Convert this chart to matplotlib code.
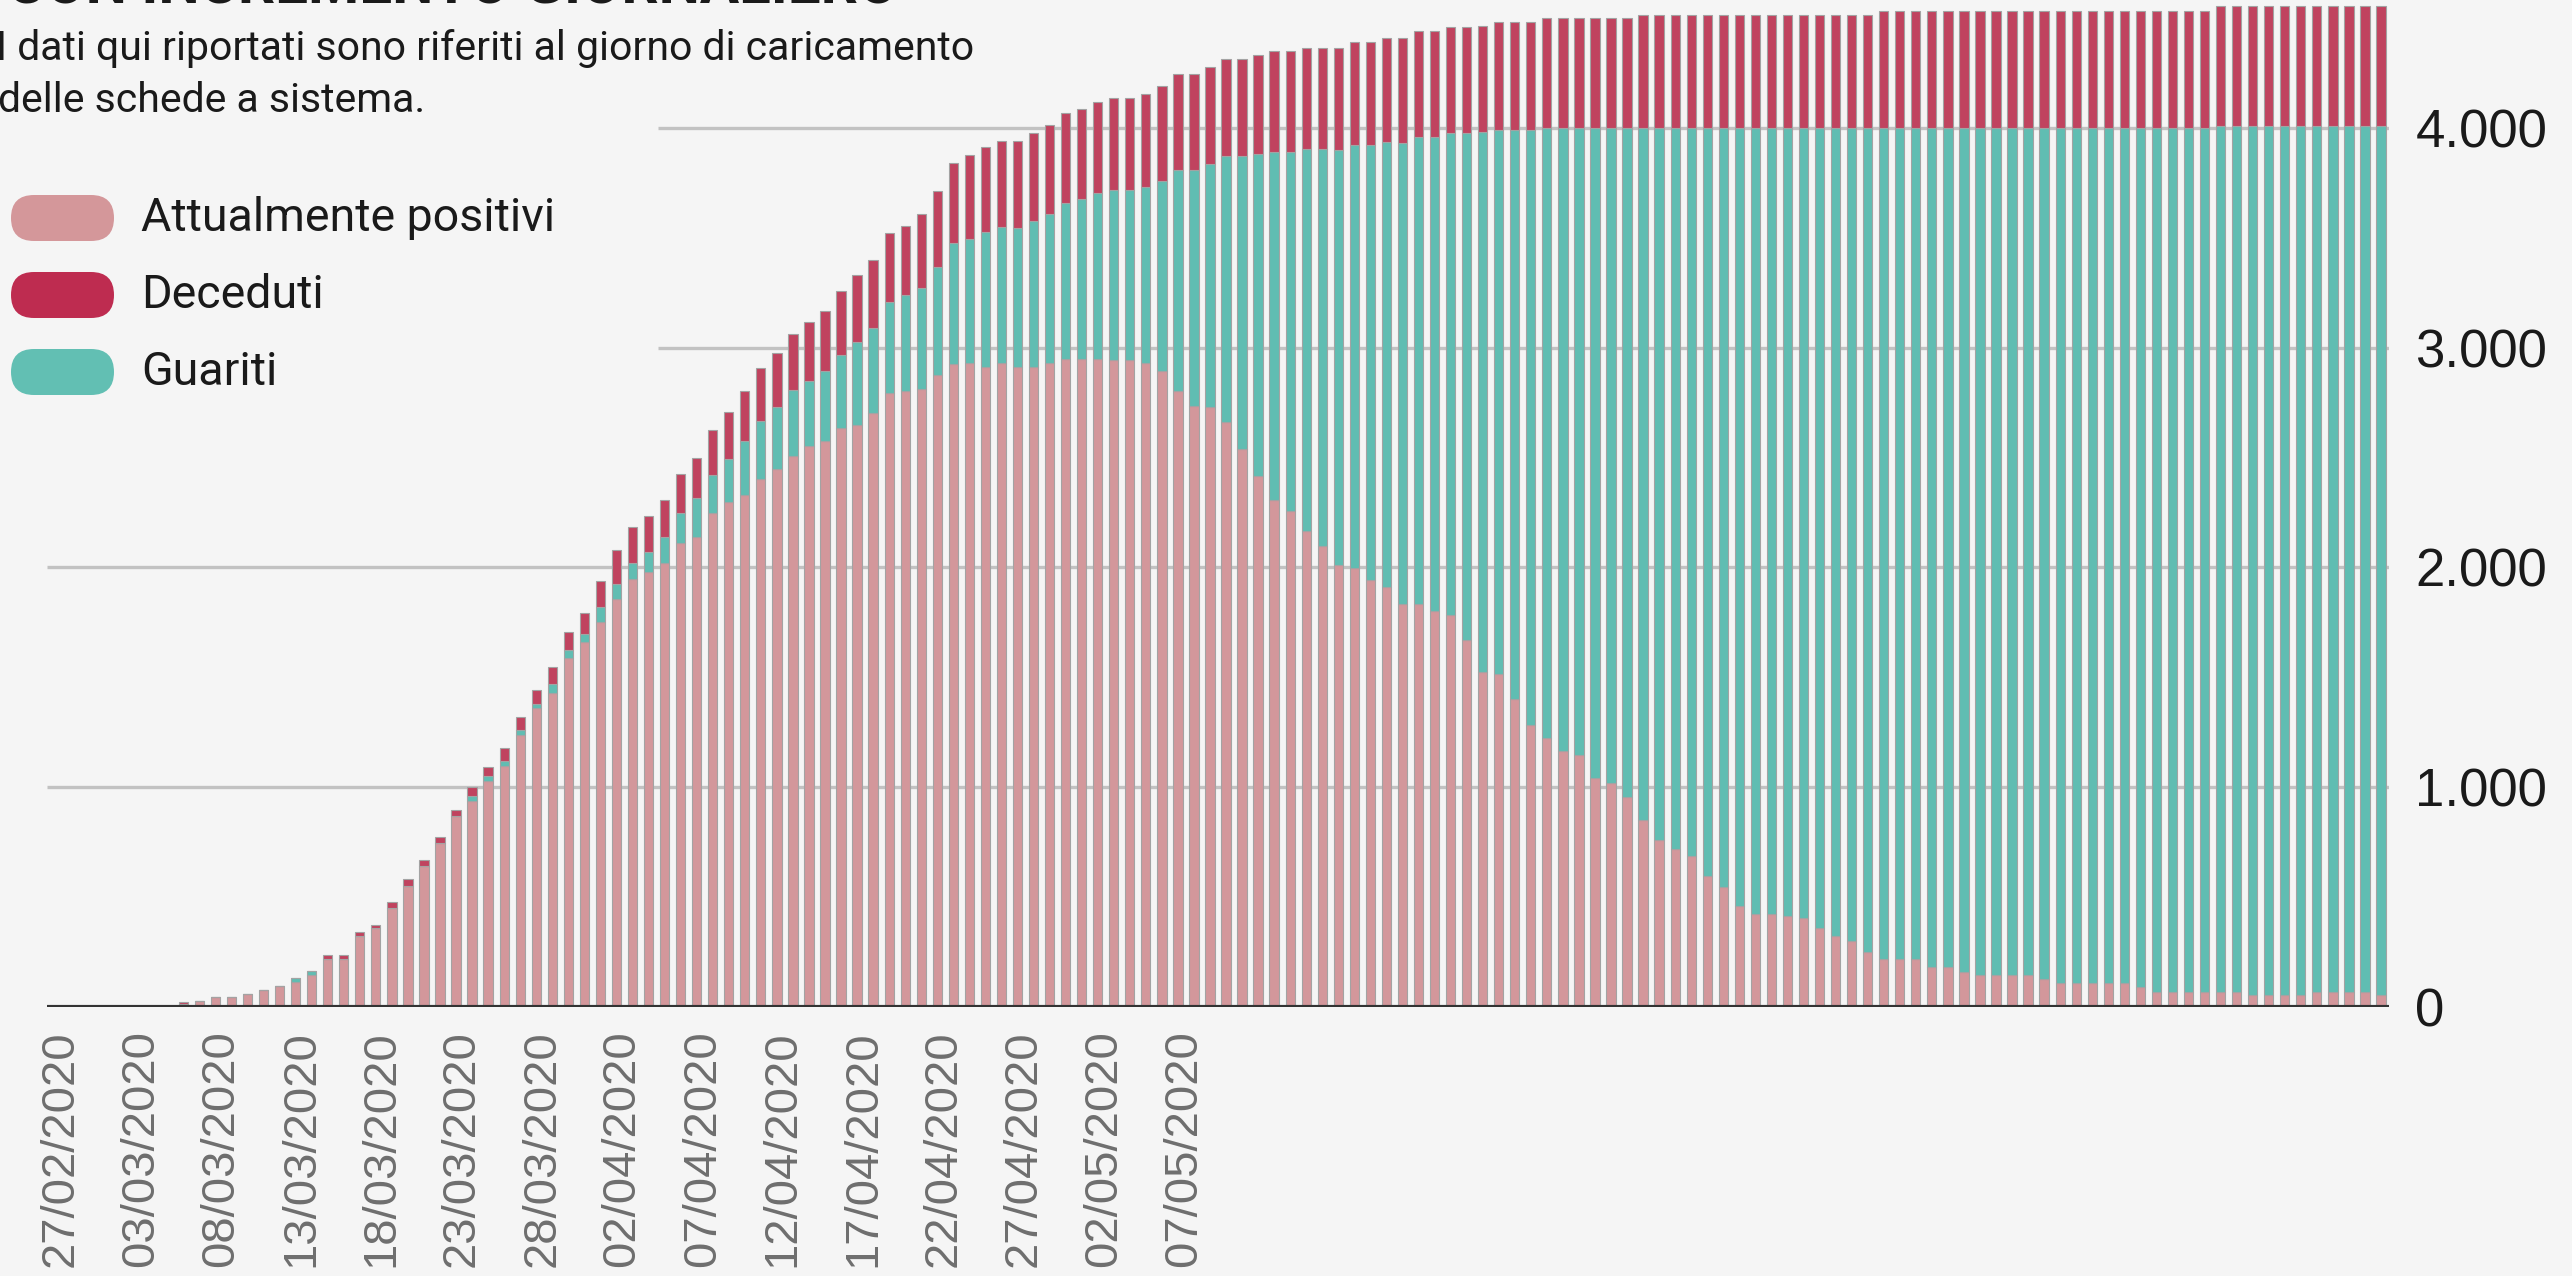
import numpy as np
import matplotlib.pyplot as plt
import matplotlib.transforms as mtransforms
from matplotlib.patches import FancyBboxPatch

W, H, DPI = 2572, 1276, 100
BG = "#f5f5f5"
C_POS = "#d3979b"
C_DEAD = "#c0435f"
C_REC = "#60bdb2"
EDGE = "#a3a3a3"

# valori giornalieri dal 27/02/2020 (146 giorni)
positivi = [0, 0, 0, 0, 0, 0, 0, 0,
            14, 26, 43, 43, 59, 78, 94, 111, 144, 216, 216, 322, 360, 449, 550, 641, 745, 869,
            938, 1026, 1097, 1237, 1360, 1429, 1588, 1660, 1752, 1855, 1945, 1980, 2020, 2110, 2138, 2245, 2299, 2330, 2401, 2449,
            2505, 2553, 2576, 2632, 2646, 2703, 2793, 2801, 2810, 2874, 2925, 2928, 2910, 2928, 2911, 2911, 2928, 2948, 2948, 2948,
            2942, 2942, 2928, 2894, 2801, 2733, 2731, 2663, 2538, 2416, 2307, 2257, 2163, 2098, 2009, 1995, 1940, 1908, 1832, 1832,
            1803, 1781, 1670, 1525, 1515, 1399, 1280, 1222, 1162, 1145, 1040, 1020, 955, 851, 757, 720, 686, 594, 545, 460,
            422, 422, 411, 405, 357, 321, 301, 247, 217, 217, 217, 179, 179, 158, 143, 143, 143, 143, 128, 107,
            107, 107, 107, 107, 89, 68, 68, 68, 68, 68, 68, 54, 54, 54, 54, 68, 68, 68, 68, 54]

guariti = [0, 0, 0, 0, 0, 0, 0, 0,
           0, 0, 0, 0, 0, 0, 0, 18, 20, 0, 0, 0, 0, 0, 0, 0, 0, 0,
           22, 23, 20, 21, 20, 38, 37, 35, 68, 70, 73, 88, 118, 135, 178, 175, 192, 246, 265, 282,
           302, 294, 317, 333, 378, 386, 416, 438, 460, 495, 550, 567, 617, 619, 633, 667, 682, 710, 727, 754,
           776, 776, 805, 866, 1009, 1075, 1106, 1207, 1332, 1463, 1583, 1631, 1740, 1805, 1891, 1925, 1980, 2027, 2100, 2128,
           2157, 2196, 2306, 2455, 2477, 2593, 2712, 2776, 2836, 2853, 2958, 2978, 3043, 3147, 3241, 3278, 3312, 3404, 3453, 3538,
           3576, 3576, 3587, 3593, 3641, 3677, 3697, 3751, 3781, 3781, 3781, 3819, 3819, 3840, 3855, 3855, 3855, 3855, 3870, 3891,
           3891, 3891, 3891, 3891, 3909, 3930, 3930, 3930, 3930, 3940, 3940, 3954, 3954, 3954, 3954, 3940, 3940, 3940, 3940, 3954]

deceduti = [0, 0, 0, 0, 0, 0, 0, 0,
            8, 0, 0, 0, 0, 0, 0, 0, 0, 18, 18, 16, 14, 27, 30, 28, 28, 28,
            40, 41, 61, 61, 61, 80, 80, 99, 118, 153, 165, 167, 170, 181, 183, 204, 217, 225, 240, 245,
            257, 270, 275, 293, 305, 310, 312, 315, 340, 345, 365, 380, 385, 395, 398, 400, 402, 410, 412, 418,
            420, 420, 422, 430, 434, 436, 438, 445, 445, 452, 458, 460, 462, 462, 465, 470, 470, 472, 475, 480,
            480, 483, 484, 485, 488, 490, 490, 502, 502, 502, 502, 502, 502, 518, 518, 518, 518, 518, 518, 518,
            518, 518, 518, 518, 518, 518, 518, 518, 534, 534, 534, 534, 534, 534, 534, 534, 534, 534, 534, 534,
            534, 534, 534, 534, 534, 534, 534, 534, 534, 545, 545, 545, 545, 545, 545, 545, 545, 545, 545, 545]

tick_days = [0, 5, 10, 15, 20, 25, 30, 35, 40, 45, 50, 55, 60, 65, 70]
tick_labels = ["27/02/2020", "03/03/2020", "08/03/2020", "13/03/2020", "18/03/2020",
               "23/03/2020", "28/03/2020", "02/04/2020", "07/04/2020", "12/04/2020",
               "17/04/2020", "22/04/2020", "27/04/2020", "02/05/2020", "07/05/2020"]
y_ticks = [0, 1000, 2000, 3000, 4000]

legend_names = ["Attualmente positivi", "Deceduti", "Guariti"]
legend_colors = ["#d4979a", "#be2c50", "#62bfb3"]

pos = np.array(positivi)
rec = np.array(guariti)
dead = np.array(deceduti)
x = np.arange(len(pos))

fig = plt.figure(figsize=(W / DPI, H / DPI), dpi=DPI, facecolor=BG)
ax = fig.add_axes([47 / W, 1 - 1006.7 / H, (2389 - 47) / W, 1006.7 / H])
ax.set_facecolor(BG)

bw = 0.58
ax.bar(x, pos, width=bw, color=C_POS, edgecolor=EDGE, linewidth=0.8, zorder=3)
ax.bar(x, rec, width=bw, bottom=pos, color=C_REC, edgecolor=EDGE, linewidth=0.8, zorder=3)
ax.bar(x, dead, width=bw, bottom=pos + rec, color=C_DEAD, edgecolor=EDGE, linewidth=0.8, zorder=3)

ax.set_xlim(-0.5, len(x) - 0.5)
ax.set_ylim(0, 4582)

# griglia (le linee alte partono dopo la legenda)
ax.hlines([1000, 2000], -0.5, len(x) - 0.5, color="#c2c2c2", lw=2.4, zorder=1)
ax.hlines([3000, 4000], 37.6, len(x) - 0.5, color="#c2c2c2", lw=2.4, zorder=1)
ax.axhline(0, color="#333333", lw=3, zorder=4)

for s in ax.spines.values():
    s.set_visible(False)

ax.yaxis.tick_right()
ax.set_yticks(y_ticks, [f"{v:,}".replace(",", ".") for v in y_ticks])
ax.tick_params(axis="y", length=0, pad=19, labelsize=38, labelcolor="#1a1a1a")
ax.set_xticks(tick_days, tick_labels, rotation=90)
ax.tick_params(axis="x", length=0, pad=17, labelsize=34, labelcolor="#6e6e6e")
shift = mtransforms.ScaledTranslation(6 / DPI, 0, fig.dpi_scale_trans)
for lab in ax.get_xticklabels():
    lab.set_transform(lab.get_transform() + shift)
for lab in ax.get_yticklabels() + ax.get_xticklabels():
    lab.set_fontfamily("Liberation Sans")

# testi e legenda in coordinate pixel
ov = fig.add_axes([0, 0, 1, 1])
ov.set_xlim(0, W)
ov.set_ylim(H, 0)
ov.axis("off")

ov.text(898, 4, "CON INCREMENTO GIORNALIERO", ha="right", va="baseline",
        fontsize=42, fontweight="bold", color="#1a1a1a", family="Roboto")
ov.text(-4, 49, "I dati qui riportati sono riferiti al giorno di caricamento",
        va="center", fontsize=29.5, color="#1a1a1a", family="Roboto")
ov.text(-2, 100, "delle schede a sistema.", va="center", fontsize=29.5,
        color="#1a1a1a", family="Roboto")

for i, (name, col) in enumerate(zip(legend_names, legend_colors)):
    cy = 218 + 77 * i
    ov.add_patch(FancyBboxPatch((11, cy - 23), 103, 46, boxstyle="round,pad=0,rounding_size=23",
                                fc=col, ec="none"))
    ov.text(141, cy, name, va="center", fontsize=33.5, color="#1a1a1a", family="Roboto")

fig.savefig("out.png", dpi=DPI, facecolor=BG)
